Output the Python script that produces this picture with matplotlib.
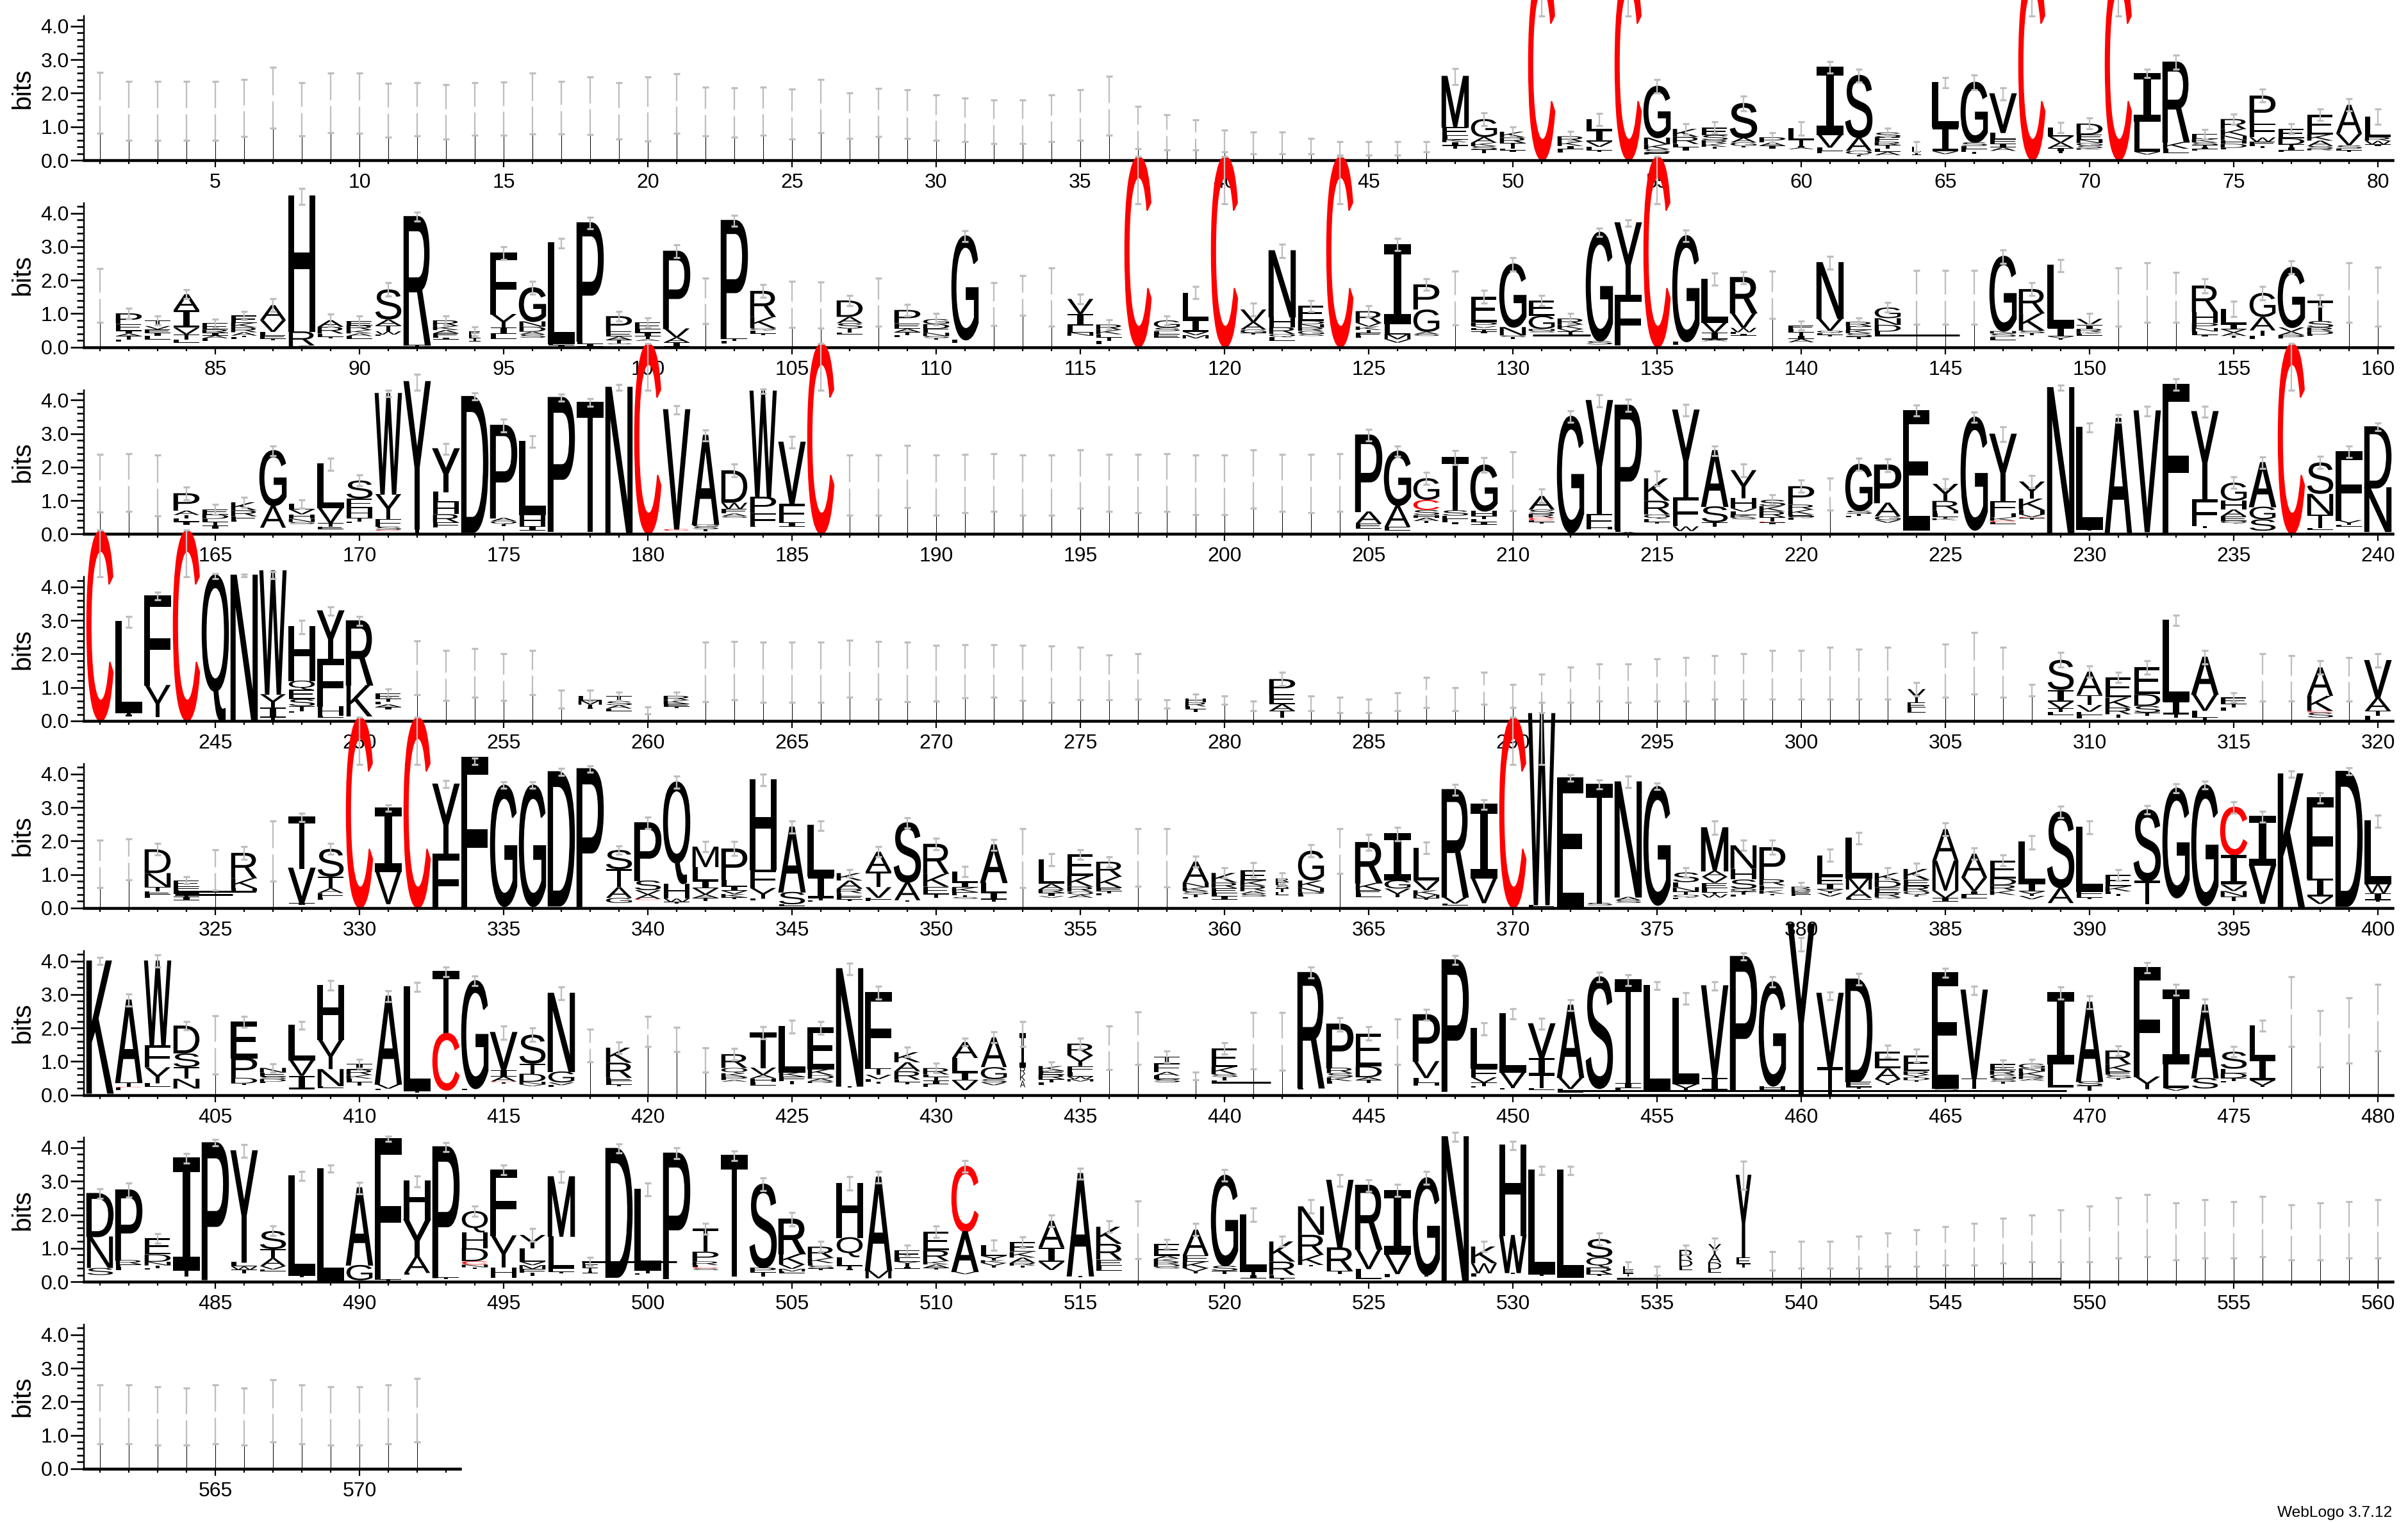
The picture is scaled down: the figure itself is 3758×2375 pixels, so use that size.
import matplotlib
matplotlib.use("Agg")
import matplotlib.pyplot as plt
from matplotlib.font_manager import FontProperties
from matplotlib.patches import PathPatch
from matplotlib.path import Path
from matplotlib.textpath import TextPath
from matplotlib.ticker import MultipleLocator
import numpy as np

FONT = "Liberation Sans"
ROW_FIRST = [1, 81, 161, 241, 321, 401, 481, 561]
ROW_LAST = [80, 160, 240, 320, 400, 480, 560, 572]

ERR_TOP_1 = [2.63,2.36,2.36,2.36,2.36,2.42,2.77,2.31,2.61,2.60,2.29,2.31,2.25,2.31,2.33,2.60,2.36,2.48,2.31,2.48,
 2.58,2.19,2.16,2.19,2.12,2.41,2.0,2.15,2.1,1.95,1.85,1.8,1.8,1.95,2.1,2.5,1.6,1.35,1.2,.9,
 .85,.85,.65,.55,.55,.55,.55,2.74,1.42,1.0,5.7,.86,1.4,5.7,2.41,1.1,1.14,1.91,.83,1.15,
 2.95,2.72,.96,.56,2.47,2.55,2.17,5.7,1.12,1.26,5.7,2.72,3.14,.92,1.38,2.12,1.1,1.53,1.84,1.54]
ERR_BOT_1 = [.80,.59,.59,.59,.59,.70,.95,.72,.82,.80,.69,.72,.64,.74,.74,.78,.78,.76,.64,.57,
 .80,.72,.68,.74,.63,.82,.65,.7,.65,.6,.55,.5,.5,.55,.6,.75,.35,.3,.3,.25,
 .2,.2,.2,.15,.15,.15,.24,2.26,1.04,.7,4.3,.57,1.04,4.3,2.0,.77,.8,1.47,.54,.75,
 2.6,2.34,.7,.25,2.16,2.1,1.79,4.3,.83,.93,4.3,2.46,2.71,.64,1.08,1.74,.78,1.18,1.47,1.08]
ERR_TOP_2 = [2.35,1.17,.94,1.72,.84,1.07,1.44,4.75,.98,.93,1.93,4.03,.94,.6,3.0,1.96,3.25,3.88,1.07,.88,
 3.05,2.07,3.94,1.87,1.96,1.95,1.55,2.06,1.28,1.01,3.48,1.93,2.14,2.37,1.58,.82,5.7,.94,1.82,5.7,
 1.31,3.07,1.4,5.7,1.24,3.24,2.05,2.27,1.7,2.68,1.55,1.0,3.56,3.81,5.7,3.5,2.21,2.26,2.27,.77,
 2.72,.88,1.33,2.29,2.29,2.29,2.91,1.93,2.62,1.0,2.37,2.52,2.23,2.05,1.38,1.82,2.57,1.57,2.52,2.38]
ERR_BOT_2 = [.74,.85,.66,1.44,.59,.82,1.07,4.26,.63,.63,1.52,3.76,.66,.34,2.62,1.58,2.97,3.54,.78,.59,
 2.67,.70,3.62,1.49,.59,.57,1.24,.62,.94,.67,3.16,.64,.95,.63,1.3,.53,4.29,.66,1.44,4.29,
 .94,2.68,1.07,4.29,.91,2.89,1.7,.66,1.31,2.28,1.23,.71,3.3,3.61,4.29,3.15,1.85,1.89,.85,.52,
 2.32,.63,1.04,.69,.69,.69,2.51,1.54,2.25,.69,.63,.75,.74,1.63,.91,1.42,2.19,1.21,.75,.63]
ERR_TOP_3 = [2.38,2.4,2.36,1.41,.88,1.1,2.63,1.03,2.26,1.76,4.29,4.77,2.71,4.21,3.44,2.94,4.18,4.04,4.47,5.7,
 3.83,3.1,2.1,4.33,2.91,5.7,2.36,2.36,2.65,2.36,2.38,2.4,2.36,2.36,2.51,2.38,2.38,2.4,2.37,2.37,
 2.51,2.39,2.39,2.4,3.13,2.63,1.85,2.5,2.28,2.46,1.34,3.69,4.17,4.02,1.88,3.87,2.63,2.1,1.17,1.61,
 1.68,2.26,2.25,3.85,1.66,3.64,3.2,1.75,4.45,3.32,3.56,3.82,4.64,3.81,1.71,2.3,5.7,2.32,2.63,3.32]
ERR_BOT_3 = [.66,.68,.54,1.03,.59,.8,2.35,.77,1.91,1.44,4.1,4.29,2.38,4.0,3.05,2.6,3.97,3.81,4.29,4.29,
 3.59,2.79,1.71,4.2,2.57,4.29,.57,.57,.8,.57,.64,.68,.57,.57,.77,.67,.64,.68,.58,.58,
 .77,.67,.64,.68,2.78,2.32,1.49,2.08,1.84,.7,.94,3.34,3.8,3.67,1.45,3.53,2.35,1.72,.88,1.25,
 .72,1.9,1.87,3.53,1.34,3.34,2.76,1.39,4.29,3.05,3.34,3.53,4.29,3.5,1.36,1.96,4.29,1.96,2.28,3.08]
ERR_TOP_4 = [5.7,3.12,3.84,5.7,4.41,4.38,4.46,3.0,3.41,3.12,.95,2.4,2.11,2.16,2.0,2.11,.91,.91,.87,.42,
 .87,2.36,2.38,2.36,2.36,2.36,2.41,2.38,2.36,2.25,2.28,2.28,2.25,2.23,2.21,1.98,2.0,.63,.8,.75,
 .6,1.45,.75,.7,.65,.85,1.3,1.0,1.45,1.1,1.4,1.6,1.7,1.7,1.85,1.9,1.95,2.0,2.1,2.1,
 2.2,2.15,2.2,1.15,2.3,2.65,2.2,1.1,2.05,1.65,1.45,1.8,3.15,2.1,.85,2.0,1.95,1.8,1.9,2.0]
ERR_BOT_4 = [4.3,2.8,3.61,4.3,4.24,4.31,4.24,2.61,3.16,2.85,.7,.79,.61,.7,.61,.79,.39,.6,.61,.22,
 .63,.58,.64,.56,.56,.56,.7,.66,.58,.6,.68,.7,.62,.56,.64,.64,.66,.38,.55,.5,
 .3,1.05,.3,.25,.25,.3,.4,.3,.5,.4,.55,.55,.6,.55,.6,.6,.65,.65,.65,.65,
 .65,.65,.65,.75,.7,.8,.7,.75,1.6,1.3,1.15,1.4,2.85,1.7,.55,.6,.6,1.4,.6,1.6]
ERR_TOP_5 = [2.03,2.06,1.92,.93,1.73,1.84,2.6,2.83,1.93,5.7,3.08,5.7,3.8,4.48,3.76,3.76,4.17,4.25,1.86,2.72,
 3.94,1.98,1.98,3.99,2.59,2.6,1.14,1.84,2.7,2.09,1.24,2.05,2.37,1.63,1.74,1.53,2.37,2.37,1.54,1.2,
 1.35,1.04,1.9,2.37,2.19,2.41,1.96,3.69,3.23,5.7,5.83,3.97,3.83,3.93,3.72,1.21,2.59,2.03,2.02,.77,
 1.75,2.25,1.21,1.33,2.55,1.79,1.58,2.16,3.03,2.6,1.15,3.05,3.7,3.78,3.18,2.89,4.09,3.44,4.18,2.78]
ERR_BOT_5 = [.61,.84,1.58,.72,.54,1.45,.8,2.58,1.6,4.29,2.88,4.29,3.59,4.28,3.57,3.57,3.96,4.06,1.6,2.36,
 3.58,1.68,1.57,3.66,2.23,2.32,.94,1.52,2.38,1.74,.93,1.71,.61,1.26,1.45,1.23,.64,.63,1.23,.89,
 .91,.72,1.52,1.03,1.71,2.01,1.63,3.37,2.95,4.29,4.29,3.78,3.56,3.59,3.53,.91,2.19,1.71,1.61,.5,
 1.4,1.91,.88,1.0,2.16,1.45,1.26,1.76,2.7,2.22,.82,2.81,3.45,3.56,2.83,2.57,3.91,3.14,3.97,2.4]
ERR_TOP_6 = [4.1,3.01,4.18,2.19,2.37,2.34,.93,2.2,3.41,1.07,3.11,3.35,3.81,3.55,2.06,2.0,3.22,1.96,1.58,2.34,
 2.01,1.4,1.38,2.03,2.23,2.19,3.94,3.24,1.42,.94,1.69,1.88,2.2,.99,1.69,2.05,2.47,1.31,.67,1.56,
 2.46,2.46,3.81,2.31,2.04,2.26,2.55,4.17,2.16,2.57,2.28,2.84,3.67,3.59,3.38,3.05,3.38,4.24,3.53,4.7,
 3.08,3.62,1.48,1.37,3.78,3.25,1.04,1.07,3.22,2.95,1.47,3.96,3.3,2.86,1.45,2.23,3.53,2.52,2.89,3.3]
ERR_BOT_6 = [3.89,2.65,3.81,1.95,.63,2.02,.68,1.96,3.13,.8,2.78,3.09,3.54,3.27,1.66,1.6,2.84,.99,1.24,1.44,
 1.3,.67,1.05,1.68,1.84,1.8,3.59,2.86,1.13,.66,1.47,1.56,1.45,.73,1.37,.75,.91,.96,.45,1.21,
 .77,.73,3.49,1.91,1.63,.9,2.23,3.89,1.79,2.26,1.96,2.51,3.38,3.27,3.14,2.71,3.13,4.02,3.22,4.3,
 2.85,3.29,1.12,.99,3.51,3.0,.8,.8,2.87,2.58,1.18,3.64,2.97,2.5,1.13,1.91,1.45,.83,.94,1.32]
ERR_TOP_7 = [2.78,2.95,1.44,3.83,4.24,4.1,1.66,3.3,3.48,2.97,4.34,3.16,4.16,2.26,3.48,1.58,3.29,.73,4.11,2.95,
 4.0,1.75,3.91,3.11,2.07,1.2,3.13,3.29,1.1,1.66,3.62,1.24,1.34,2.0,3.38,1.81,2.41,1.26,1.74,3.35,
 2.2,1.35,2.45,3.2,3.05,2.9,3.3,4.45,1.2,4.2,3.45,3.45,1.45,.6,.45,1.1,1.3,3.6,.9,1.2,
 1.2,1.35,1.45,1.55,1.65,1.75,1.9,2.0,2.15,2.25,2.5,2.6,2.35,2.45,2.4,2.55,2.3,2.35,2.4,2.45]
ERR_BOT_7 = [2.48,2.52,1.15,3.54,4.05,3.71,1.37,3.03,3.27,2.63,4.2,2.84,3.89,1.96,3.19,1.21,2.97,.48,3.84,2.56,
 3.67,1.42,3.62,2.71,1.66,.89,2.73,2.95,.78,1.33,3.27,.94,1.02,1.64,3.07,1.47,.69,.99,1.37,3.0,
 1.8,1.05,2.05,2.85,2.7,2.55,2.9,4.2,.9,3.95,3.2,3.2,1.1,.3,.2,.8,.95,2.75,.35,.4,
 .4,.4,.45,.45,.5,.5,.55,.6,.6,.6,.7,.75,.65,.7,.7,.75,.65,.65,.7,.7]
ERR_TOP_8 = [2.5,2.5,2.45,2.4,2.5,2.4,2.65,2.5,2.45,2.45,2.5,2.7]
ERR_BOT_8 = [.75,.75,.7,.7,.75,.7,.8,.75,.7,.7,.75,.8]

STACKS_1 = {48:"M1.51 E.27 L.1 K.08 I.1 T.1", 49:"G.54 A.17 K.1 S.1 T.1", 50:"K.17 R.17 T.16 L.05 I.05",
 51:"C5.68", 52:"R.16 K.13 I.1 L.1", 53:"L.31 I.36 V.15 L.1 T.05", 54:"C5.68", 55:"G1.53 N.2 K.15 S.1 E.05",
 56:"K.24 R.21 L.1 I.1", 57:"E.22 S.15 R.1 K.1 T.05", 58:"S1.02 A.14 G.1 T.05", 59:"P.15 A.1 I.1", 60:"L.33 T.19 I.05 A.05",
 61:"I2.0 V.4 L.1 F.06", 62:"S1.85 A.4 Q.12 T.05", 63:"S.15 E.13 R.1 T.1 L.1 A.1", 64:"L.15 I.1", 65:"L1.32 I.73 V.08",
 66:"G1.79 S.11 L.1 E.08 T.05", 67:"V1.15 L.2 F.13 I.12 A.1", 68:"C5.68", 69:"L.26 V.19 A.16 I.1 T.05", 70:"D.33 E.15 N.1 G.08 S.08 K.04",
 71:"C5.68", 72:"I1.42 L.92 V.08", 73:"R2.38 K.2 L.13", 74:"E.15 K.1 S.08 T.07 I.05 L.05", 75:"R.3 K.2 N.13 H.11 D.12 L.04",
 76:"P.84 F.41 W.13 E.08 L.05 T.05", 77:"E.29 D.18 T.08 I.1 L.05", 78:"E.59 K.18 A.16 S.08 R.05", 79:"A.86 V.35 S.1 L.05 T.05", 80:"L.62 R.11 W.11 I.05"}
STACKS_2 = {82:"P.32 E.2 I.08 A.08 T.1 L.07", 83:"T.17 V.1 E.1 I.1 L.1", 84:"A.48 I.52 V.2 T.15 L.1", 85:"E.19 R.1 I.08 A.08 L.08",
 86:"E.22 K.14 R.14 A.1 T.05 L.05", 87:"A.45 V.35 L.1 E.1 T.05", 88:"H4.05 R.42 K.05", 89:"A.2 R.2 E.1 T.05", 90:"E.13 R.14 K.1 A.08 L.08",
 91:"S.9 A.18 T.17 W.1 L.03", 92:"R3.83 T.05", 93:"R.17 K.12 A.1 E.08 L.05 I.05", 94:"E.1 L.1 I.1", 95:"F1.82 Y.41 I.18 L.15",
 96:"G1.0 N.16 D.15 A.08 S.1", 97:"L3.0 E.05 I.06", 98:"P3.53 L.08 I.08", 99:"P.46 E.15 A.1 T.1 S.03", 100:"E.2 L.1 I.1 T.1 A.05",
 101:"P2.3 V.27 A.15 I.13", 103:"P3.52 T.08 L.08", 104:"R.78 K.33 Q.07 L.1 T.05", 107:"D.49 A.19 S.16 T.12 L.05",
 109:"P.4 E.16 A.1 T.1 L.05", 110:"G.15 D.14 E.12 N.1 S.06 T.05", 111:"G3.1 L.1", 115:"V.45 I.35 L.2 N.1", 116:"R.16 K.13 E.1 T.1 L.1",
 117:"C5.68", 118:"G.22 S.1 L.1 E.1", 119:"L.8 I.37 V.1 M.1", 120:"C5.68", 121:"V.38 A.22 G.1 T.05", 122:"N1.97 H.31 R.2 Q.1 L.1",
 123:"E.45 D.1 N.1 R.1 G.1 S.05", 124:"C5.68", 125:"R.35 V.11 K.1 T.08 E.1 L.05", 126:"I2.36 L.32 M.15 V.1", 127:"P.75 G.67 A.07 S.05",
 129:"E.77 P.11 V.05 L.06 T.05 I.05", 130:"G1.88 N.25 S.05 T.05", 131:"E.45 G.4 N.05 S.05", 132:"R.18 K.13 V.08 T.08 L.05",
 133:"G3.25 S.1", 134:"Y2.17 F1.47", 135:"C5.68", 136:"G3.16 L.1", 137:"L1.28 V.32 I.2 A.05", 138:"R1.05 V.45 W.13 L.05 I.05",
 140:"E.1 L.1 T.1 I.1 A.1", 141:"N1.66 V.37 Q.07 L.05 T.05", 142:"R.13 E.11 K.1 S.1 T.08", 143:"G.32 N.2 D.2 L.1 E.05",
 147:"G2.23 N.07 S.1 L.1", 148:"R.73 K.51 S.08 T.05 L.05", 149:"L1.85 I.27 V.05 T.05", 150:"V.19 I.11 R.1 K.05 L.05",
 154:"R.8 H.32 P.15 N.1 L.1 I.05", 155:"L.46 I.15 V.1 A.1 T.05", 156:"G.72 A.4 T.16 L.1", 157:"G1.79 V.13 A.1 P.1", 158:"T.61 S.19 R.11 D.1 L.05"}
STACKS_3 = {164:"P.52 A.13 T.1 L.1 I.1", 165:"E.15 D.13 L.1 T.1 I.1", 166:"K.24 R.18 E.11 L.05", 167:"G1.64 A.66", 168:"L.16 V.15 H.13 N.1 S.06",
 169:"L1.3 V.46 T.1 E.08", 170:"S.54 E.29 H.29 T.1 L.05", 171:"W3.0 Y.75 F.22 S.1 C.03", 172:"Y4.4 T.15", 173:"Y1.28 L.32 H.35 R.25 F.15",
 174:"D4.05", 175:"P2.76 A.1 Q.09 T.05", 176:"L2.19 H.35 I.13", 177:"P3.99", 178:"T3.85", 179:"N4.33", 180:"C5.68", 181:"V3.56 C.05",
 182:"A2.65 G.07 S.08 T.06", 183:"D.97 W.19 E.13 A.08 S.05", 184:"W3.15 P.49 F.38 L.03", 185:"V1.84 F.55 I.13", 186:"C5.68",
 205:"P2.28 A.36 E.15", 206:"G1.62 A.64 E.11", 207:"G.65 C.3 S.15 H.08 A.1 T.05", 208:"T1.58 S.16 E.1 L.1 I.06", 209:"G1.37 H.15 T.1 L.08 I.08",
 211:"A.41 S.13 R.11 C.08 L.05 T.05", 212:"G3.48", 213:"Y3.39 F.37 H.08", 214:"P3.7 L.08 A.06", 215:"K.67 R.41 Q.13 E.1 T.05",
 216:"Y2.6 F.87 W.14", 217:"A1.66 S.48 T.13", 218:"Y.84 H.3 V.1 L.1 K.08 S.05", 219:"S.19 K.16 R.17 T.13 C.03 I.05", 220:"P.55 R.15 K.15 E.05 Q.05 L.05",
 222:"G1.38 S.1 T.05 L.05", 223:"P1.12 A.41 G.11 V.08", 224:"E3.57", 225:"Y.51 R.29 H.08 L.1 T.05 K.05", 226:"G3.37",
 227:"Y2.0 F.36 H.12 K.1 C.05 L.05", 228:"Y.51 K.34 H.13 V.08 C.03 T.05", 229:"N4.33", 230:"L3.04 T.05", 231:"A3.4", 232:"V3.6",
 233:"F4.42", 234:"Y2.62 F.8 T.05", 235:"G.54 H.26 A.21 E.13 Q.08", 236:"A1.31 G.38 S.34", 237:"C5.68", 238:"S.94 N.62 T.4 L.05",
 239:"F2.04 Y.14 L.05", 240:"D1.82 N1.3"}
STACKS_4 = {241:"C5.68", 242:"L2.71 T.06 I.06", 243:"F2.65 Y.96", 244:"C5.68", 245:"Q4.36", 246:"N4.35", 247:"W3.68 Y.4 I.3 T.1", 248:"H1.6 Q.27 E.28 S.21 T.15 L.05",
 249:"Y1.45 F1.4 H.29 L.04", 250:"R1.91 K.94", 251:"E.17 T.08 L.08 A.08 I.08", 258:"L.14 M.13 T.08 I.05", 259:"T.15 S.12 A.1 L.08",
 261:"R.13 K.11 E.08 T.05", 279:"H.12 R.12 L.08 T.08", 282:"P.45 E.3 A.2 T.2", 304:"Y.4 E.15 L.15", 309:"S.9 I.35 V.2 T.1 L.1",
 310:"A.7 T.3 V.2 E.1 L.1", 311:"E.6 K.3 R.2 T.1", 312:"E.8 D.35 S.2 T.1", 313:"L2.4 I.4 T.1", 314:"A1.1 V.5 L.2 T.1", 315:"E.2 T.1 L.1",
 318:"A.85 K.45 C.05 S.15", 320:"V1.1 A.4 T.15 L.15"}
STACKS_5 = {323:"D.71 N.41 T.13 E.1 L.1", 324:"E.19 F.1 L.1 T.1 I.1", 326:"R.76 K.3 H.08 T.05", 328:"T1.52 V1.04 I.05", 329:"S.83 T.35 A.14 F.15 L.05",
 330:"C5.68", 331:"I1.89 V.98", 332:"C5.68", 333:"Y2.09 F1.58", 334:"F4.5", 335:"G3.62", 336:"G3.62", 337:"D4.0", 338:"P4.11",
 339:"S.57 T.54 A.32 G.15", 340:"P1.72 S.29 V.13 A.13 C.03", 341:"Q3.03 H.45 W.1 T.05", 342:"M.61 L.41 I.22 V.19 A.1 T.1", 343:"P.94 L.19 I.13 V.1 K.1 T.05",
 344:"H2.69 F.54 Y.32 L.05", 345:"A1.93 S.37 L.05", 346:"L1.5 I.68 T.05 E.05", 347:"K.22 A.25 R.13 F.08 E.1 T.05", 348:"A.6 T.46 V.32 L.05 E.05",
 349:"S1.77 A.54 T.05", 350:"R.9 K.38 E.23 T.1", 351:"L.32 I.16 K.13 F.1 T.05 S.05", 352:"A1.12 L.29 I.22 T.06", 354:"L.73 A.16 R.1 I.1 V.05",
 355:"E.64 K.32 R.15 Q.1 A.08", 356:"R.45 K.32 E.1 T.08 L.05", 359:"A.64 N.13 K.11 S.1 T.08 L.05", 360:"K.29 R.16 E.15 L.1 I.1",
 361:"E.31 K.16 R.16 A.08 S.08", 362:"R.1 F.1 S.1 T.1 L.1", 363:"G.89 K.22 N.13 P.08 L.05", 365:"R1.2 K.22 E.1 L.1", 366:"I1.38 G.25 V.16 T.1",
 367:"L.98 V.29 K.13 M.1 T.05", 368:"R3.2 V.2 L.05", 369:"I2.2 V.75", 370:"C5.68", 371:"W5.7 F.1", 372:"E3.87", 373:"T3.54 S.08", 374:"N3.43 A.1 S.08",
 375:"G3.54", 376:"S.29 L.15 N.13 T.1 Q.08 L.05", 377:"M1.28 A.18 V.18 E.16 L.13 T.05 W.1", 378:"N.7 H.32 S.28 Q.08 T.1 L.05", 379:"P.96 R.18 E.15 K.1 T.05",
 380:"R.08 P.07 E.08 L.05", 381:"L.64 F.22 I.17 Y.1 V.1", 382:"L1.18 M.35 A.25 L.05", 383:"K.24 D.19 E.16 R.13 Q.05", 384:"K.32 E.19 R.16 Q.11 T.05",
 385:"A.94 M.9 V.22 I.11", 386:"A.71 V.41 I.1 L.11", 387:"E.54 D.2 R.16 K.13", 388:"L1.23 I.24 Y.13 V.1", 389:"S2.26 A.46", 390:"L1.91 F.14 E.05 T.05",
 391:"E.34 K.15 L.08 T.05", 392:"S2.12 T.69", 393:"G3.27", 394:"G3.6", 395:"C1.42 I.89 V.19 N.16 T.13", 396:"I1.45 V1.14", 397:"K3.99", 398:"F2.41 I.54 V.22",
 399:"D4.02", 400:"L1.87 W.28 I.2 T.05"}
STACKS_6 = {401:"K3.94", 402:"A2.46 T.13 C.02 E.08", 403:"W2.52 F.65 Y.48 L.1", 404:"D.83 S.41 T.35 N.29", 406:"E1.08 P.59 D.17 T.05", 407:"N.14 E.11 S.08 D.08 L.05",
 408:"L1.03 V.48 I.4", 409:"H1.61 Y.89 N.51 L.05", 410:"I.18 R.16 K.11 L.1 T.1", 411:"A2.62 V.14 L.05", 412:"L3.1 T.05", 413:"T1.84 C1.69", 414:"G3.22 L.05",
 415:"V1.12 I.19 A.15 C.02 T.05", 416:"S.87 T.3 D.24 N.08 V.05", 417:"N2.33 G.33 V.08 L.05", 419:"K.45 R.45 E.1 L.1 T.05", 423:"R.41 Q.16 K.1 P.1 A.05",
 424:"T1.04 V.22 A.1 H.11 L.1", 425:"L1.36 K.13 F.13 T.1", 426:"E1.22 K.19 D.1 A.08 R.05", 427:"N3.5 T.05", 428:"F2.26 T.19 V.13 L.08 T.05",
 429:"K.3 A.27 R.25 E.08 T.05", 430:"R.19 L.08 T.1 I.1 E.1", 431:"A.48 L.43 I.24 V.29", 432:"A.89 G.36 S.1 V.08", 433:"I1.0 R.2 K.2 A.2", 434:"K.14 E.11 R.14 T.1 L.08",
 435:"R.35 Y.32 F.18 L.13 W.08 M.07", 438:"T.19 F.26 A.11 L.1 S.1", 440:"E.55 K.22 S.08 T.1 L.1", 443:"R3.44 L.05", 444:"P1.3 R.16 S.13 K.11 L.08",
 445:"E.98 D.33 A.08 T.1", 447:"P1.38 V.51 L.15 H.08", 448:"P3.92", 449:"L1.19 F.26 V.16 T.1 E.05", 450:"L1.73 V.45 T.03 E.05", 451:"V1.02 I.49 T.41 L.05",
 452:"A2.15 V.35 L.1", 453:"S3.33", 454:"T3.07 I.15 L.08", 455:"L3.13", 456:"L2.55 V.13 T.05", 457:"V2.74 I.38", 458:"P4.0", 459:"G3.11 H.11 T.05",
 460:"Y5.1", 461:"V2.2 T.83", 462:"D3.06 E.16 T.05", 463:"E.51 A.32 V.13 T.05", 464:"E.47 R.11 Y.08 D.08 T.05", 465:"E3.44 S.08", 466:"V2.63 T.32",
 467:"E.19 R.13 G.13 S.08 T.05", 468:"G.14 N.1 K.14 R.08 A.05", 469:"I2.12 L.7", 470:"A2.36 S.13 T.15", 471:"R.41 K.22 E.1 S.1 T.05", 472:"F3.25 Y.38",
 473:"I2.2 L.73 V.08", 474:"A2.17 S.32", 475:"S.51 E.13 D.15 T.08 L.05", 476:"L.99 I.64 V.16 T.05"}
STACKS_7 = {481:"D1.28 N.94 S.21", 482:"P2.09 R.13 E.08 L.1", 483:"E.48 D.22 N.11 T.08 L.05", 484:"I3.34 T.2", 485:"P4.08", 486:"Y3.32 L.13 W.1 T.1",
 487:"S.54 T.27 A.24 V.1 E.05", 488:"L2.97 T.06", 489:"L3.34", 490:"A2.3 G.46", 491:"F4.2 T.05", 492:"H1.15 Y1.08 A.51 L.05", 493:"P3.9 T.05",
 494:"Q.64 H.47 D.39 C.1 N.08 T.05", 495:"F1.95 Y.96 H.31", 496:"Y.4 L.4 V.1 M.12 F.1 T.1", 497:"M1.77 L.96 F.1 T.05", 498:"E.1 L.1 T.1 I.05",
 499:"D3.84", 500:"L2.42 T.08 E.05", 501:"P3.74", 502:"T.69 P.29 R.11 L.06 C.04 S.05", 503:"T3.59", 504:"S2.49 P.13 T.13", 505:"R1.03 K.32 V.13 M.08 L.05",
 506:"R.34 K.15 E.08 S.08 T.05", 507:"H1.6 Q.6 L.26 T.08 I.05", 508:"A2.78 M.24", 509:"E.24 L.1 Y.08 T.08 I.05", 510:"E.56 R.32 K.1 A.1 T.05", 511:"C1.95 A1.19 V.08",
 512:"L.32 Y.13 K.08 V.08 T.05", 513:"E.29 K.17 A.16 R.08 T.05", 514:"A.8 I.43 V.24", 515:"A3.05 T.05", 516:"K.51 R.47 E.19 L.14", 518:"E.35 A.09 K.09 R.08 D.07 S.05",
 519:"A.77 E.19 K.19 V.1 T.05", 520:"G2.7 S.15 T.1", 521:"L1.7 T.1 I.1", 522:"K.6 R.4 E.1 T.05", 523:"N.85 R.6 K.3 T.05", 524:"V2.0 R.7 T.1", 525:"R1.9 V.6 L.3",
 526:"I1.9 V.6 L.1", 527:"G2.9 T.05", 528:"N4.3", 529:"K.5 W.3 L.1", 530:"H2.7 W1.1 T.05", 531:"L3.1 T.05", 532:"L3.2", 533:"S.55 Q.3 R.2 T.05", 534:"L.1 E.1 T.1",
 536:"R.3 D.2 L.1", 537:"Y.3 A.25 D.2 L.1", 538:"Y2.45 E.2 T.1"}
STACKS_8 = {}

# Stack width as a share of the full letter width, for gappy columns.
NARROW = {64: .35, 94: .45, 362: .5, 380: .75, 433: .2, 498: .6, 538: .55, 258: .9, 279: .8, 304: .7, 534: .4, 536: .5, 537: .5}

# Stray flat strokes: first position, last position, height in bits.
FLAT_1 = []
FLAT_2 = [(130.7, 132.7, .36), (142.6, 145.5, .36)]
FLAT_3 = []
FLAT_4 = []
FLAT_5 = [(323.6, 326.4, .5), (323.6, 325.6, .4)]
FLAT_6 = [(439.7, 441.6, .38), (451.6, 469.2, .115)]
FLAT_7 = [(497.7, 501.0, .59), (533.6, 549.0, .1)]
FLAT_8 = []

ERR_TOPS = [ERR_TOP_1, ERR_TOP_2, ERR_TOP_3, ERR_TOP_4, ERR_TOP_5, ERR_TOP_6, ERR_TOP_7, ERR_TOP_8]
ERR_BOTS = [ERR_BOT_1, ERR_BOT_2, ERR_BOT_3, ERR_BOT_4, ERR_BOT_5, ERR_BOT_6, ERR_BOT_7, ERR_BOT_8]
STACKS = [STACKS_1, STACKS_2, STACKS_3, STACKS_4, STACKS_5, STACKS_6, STACKS_7, STACKS_8]
FLATS = [FLAT_1, FLAT_2, FLAT_3, FLAT_4, FLAT_5, FLAT_6, FLAT_7, FLAT_8]

W, H = 3758, 2375
PX = 72 / 100
BASE = [250, 541.7, 833.4, 1125, 1416.8, 1708.5, 2000, 2291.8]
SPINE_X, PITCH, POS0_X, BIT = 131, 45.0, 156, 52.25
YMAX = 4.3
GRAY = "#BEBEBE"
LETTER_W = .90

FP_SANS = FontProperties(family=FONT, weight="normal")
FP_MONO = FontProperties(family="Liberation Mono", weight="normal")
GLYPHS = {}


def glyph(ch):
    if ch not in GLYPHS:
        tp = TextPath((0, 0), ch, size=1, prop=FP_MONO if ch == "I" else FP_SANS)
        b = tp.get_extents()
        v = (tp.vertices - [b.x0, b.y0]) / [b.width, b.height]
        GLYPHS[ch] = (v, tp.codes)
    return GLYPHS[ch]


def draw_letter(ax, ch, x, y0, h, w):
    v, c = glyph(ch)
    verts = v * [w, h] + [x - w / 2, y0]
    col = "#FF0000" if ch == "C" else "black"
    edge = 2.0 * PX if h >= 1 else 0
    ax.add_patch(PathPatch(Path(verts, c), fc=col, ec=col if edge else "none", lw=edge,
                           clip_on=False, zorder=2))


fig = plt.figure(figsize=(W / 100, H / 100), dpi=100)
fig.patch.set_facecolor("white")

for r, first in enumerate(ROW_FIRST):
    last = ROW_LAST[r]
    right_px = 3734 if r < 7 else 718
    ax = fig.add_axes([SPINE_X / W, 1 - BASE[r] / H, (right_px - SPINE_X) / W, YMAX * BIT / H])
    ax.set_facecolor("none")
    ax.set_xlim(first + (SPINE_X - POS0_X) / PITCH, first + (right_px - POS0_X) / PITCH)
    ax.set_ylim(0, YMAX)
    for s in ("top", "right"):
        ax.spines[s].set_visible(False)
    ax.spines["left"].set_linewidth(2.5 * PX)
    ax.spines["bottom"].set_linewidth(4.5 * PX)

    pos = np.arange(first, last + 1)
    top = np.array(ERR_TOPS[r], float)
    bot = np.array(ERR_BOTS[r], float)
    assert len(top) == len(pos) == len(bot), r
    mid = (top + bot) / 2
    stacks = STACKS[r]

    thin = np.array([p not in stacks for p in pos])
    ax.vlines(pos[thin], 0, bot[thin], color="black", lw=1.0 * PX, zorder=1, clip_on=False)

    for p, m in zip(pos, mid):
        if p not in stacks:
            continue
        items = [(t[0], float(t[1:])) for t in stacks[p].split()]
        y = max(m, sum(h for _, h in items))
        w = LETTER_W * NARROW.get(p, 1)
        for ch, h in items:
            y -= h
            draw_letter(ax, ch, p, y, h, w)

    for x0, x1, y in FLATS[r]:
        ax.hlines(y, x0, x1, color="black", lw=3.0 * PX, zorder=2, clip_on=False)

    ax.errorbar(pos, mid, yerr=[mid - bot, top - mid], fmt="none", ecolor=GRAY,
                elinewidth=2.3 * PX, capsize=5.0 * PX, capthick=3.2 * PX, zorder=3, clip_on=False)
    for c in ax.containers:
        for a in c.get_children():
            a.set_clip_on(False)
    big = thin & (top - bot > .8)
    ax.vlines(pos[big], mid[big] - .09, mid[big] + .09, color="white", lw=3.0 * PX, zorder=4)

    ax.xaxis.set_major_locator(MultipleLocator(5))
    ax.xaxis.set_minor_locator(MultipleLocator(1))
    ax.yaxis.set_major_locator(MultipleLocator(1))
    ax.yaxis.set_minor_locator(MultipleLocator(.2))
    ax.set_yticks(np.arange(0, 4.01, 1), [f"{v:.1f}" for v in np.arange(0, 4.01, 1)])
    ax.tick_params(axis="x", which="major", length=11 * PX, width=2.2 * PX, pad=9 * PX, labelsize=32 * PX)
    ax.tick_params(axis="x", which="minor", length=5.5 * PX, width=2.2 * PX)
    ax.tick_params(axis="y", which="major", length=21 * PX, width=2.6 * PX, pad=2 * PX, labelsize=32 * PX)
    ax.tick_params(axis="y", which="minor", length=11 * PX, width=2.6 * PX)
    for lab in ax.get_xticklabels() + ax.get_yticklabels():
        lab.set_family(FONT)
    ax.set_ylabel("bits", family=FONT, fontsize=41 * PX, va="center", ha="center")
    ax.yaxis.set_label_coords((35 - SPINE_X) / (right_px - SPINE_X), .5)

fig.text(3733 / W, 1 - 2361 / H, "WebLogo 3.7.12", family=FONT, fontsize=24.5 * PX, ha="right", va="center")
fig.savefig("out.png", dpi=100)
